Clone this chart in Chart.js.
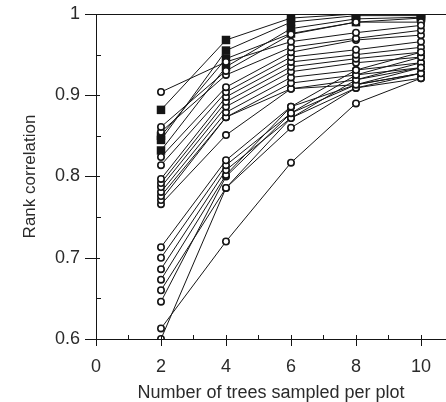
<!DOCTYPE html>
<html>
<head>
<meta charset="utf-8">
<script src="https://cdn.jsdelivr.net/npm/chart.js@4/dist/chart.umd.min.js"></script>
<style>
  html, body { margin: 0; padding: 0; background: #fff; }
  #wrap { width: 446px; height: 402px; }
</style>
</head>
<body>
<div id="wrap"><canvas id="c" width="446" height="402"></canvas></div>
<script>
// trees sampled per plot
const treesSampled = [2, 4, 6, 8, 10];

// axis ticks
const xMajorTicks = [0, 2, 4, 6, 8, 10];
const xMinorTicks = [1, 3, 5, 7, 9];
const yMajorTicks = [0.6, 0.7, 0.8, 0.9, 1];
const yMinorTicks = [0.65, 0.75, 0.85, 0.95];

// series drawn with filled squares
const squareSeries = [
    [0.882, 0.968, 0.995, 1.0, 1.0],
    [0.845, 0.955, 0.990, 0.998, 0.998],
    [0.850, 0.945, 0.976, 0.990, 0.995],
    [0.832, 0.935, 0.982, 0.994, 0.996]
];

// series drawn with open circles, upper group
const upperCircleSeries = [
    [0.904, 0.941, 0.966, 0.977, 0.986],
    [0.861, 0.930, 0.975, 0.990, 0.990],
    [0.855, 0.925, 0.959, 0.970, 0.980],
    [0.824, 0.910, 0.953, 0.968, 0.974],
    [0.814, 0.904, 0.947, 0.956, 0.966],
    [0.797, 0.898, 0.941, 0.950, 0.959],
    [0.792, 0.892, 0.935, 0.945, 0.953],
    [0.787, 0.886, 0.929, 0.940, 0.947],
    [0.781, 0.879, 0.922, 0.931, 0.940],
    [0.776, 0.873, 0.915, 0.925, 0.934],
    [0.771, 0.873, 0.908, 0.919, 0.940],
    [0.766, 0.851, 0.908, 0.913, 0.927]
];

// series drawn with open circles, lower group
const lowerCircleSeries = [
    [0.713, 0.820, 0.886, 0.931, 0.953],
    [0.700, 0.814, 0.878, 0.925, 0.947],
    [0.686, 0.808, 0.872, 0.919, 0.934],
    [0.673, 0.802, 0.886, 0.913, 0.927],
    [0.660, 0.786, 0.872, 0.909, 0.921],
    [0.646, 0.800, 0.878, 0.913, 0.934],
    [0.613, 0.720, 0.817, 0.890, 0.921],
    [0.600, 0.786, 0.860, 0.909, 0.927]
];

const ink = '#151515';
const textColor = '#2a2a2a';

function makeSet(values, square) {
    return {
        data: values.map((v, i) => ({ x: treesSampled[i], y: v })),
        borderColor: ink,
        borderWidth: 1,
        pointStyle: square ? 'rect' : 'circle',
        pointRadius: square ? 6 : 3.2,
        pointBorderWidth: square ? 0 : 1.6,
        pointBackgroundColor: square ? ink : '#fff',
        pointBorderColor: ink,
        fill: false,
        tension: 0
    };
}

const datasets = [
    ...lowerCircleSeries.map(s => makeSet(s, false)),
    ...upperCircleSeries.map(s => makeSet(s, false)),
    ...squareSeries.map(s => makeSet(s, true))
];

// axis ticks: major cross the axis, minor point inward; plus the top frame line
const axisTicks = {
    id: 'axisTicks',
    afterDraw(chart) {
        const { ctx, chartArea, scales } = chart;
        const x = scales.x, y = scales.y;
        ctx.save();
        ctx.strokeStyle = ink;
        ctx.lineWidth = 1;
        ctx.beginPath();
        ctx.moveTo(chartArea.left, chartArea.top + 0.5);
        ctx.lineTo(chartArea.right, chartArea.top + 0.5);
        xMajorTicks.forEach(v => {
            const px = Math.round(x.getPixelForValue(v)) + 0.5;
            ctx.moveTo(px, chartArea.bottom - 4);
            ctx.lineTo(px, chartArea.bottom + 7);
        });
        xMinorTicks.forEach(v => {
            const px = Math.round(x.getPixelForValue(v)) + 0.5;
            ctx.moveTo(px, chartArea.bottom - 4);
            ctx.lineTo(px, chartArea.bottom);
        });
        yMajorTicks.forEach(v => {
            const py = Math.round(y.getPixelForValue(v)) + 0.5;
            ctx.moveTo(chartArea.left - 11, py);
            ctx.lineTo(chartArea.left + 4, py);
        });
        yMinorTicks.forEach(v => {
            const py = Math.round(y.getPixelForValue(v)) + 0.5;
            ctx.moveTo(chartArea.left, py);
            ctx.lineTo(chartArea.left + 5, py);
        });
        ctx.stroke();
        ctx.restore();
    }
};

Chart.defaults.font.family = '"Liberation Sans", Arial, sans-serif';
Chart.defaults.color = textColor;

new Chart(document.getElementById('c'), {
    type: 'line',
    data: { datasets },
    options: {
        responsive: false,
        animation: false,
        layout: { autoPadding: false, padding: { top: 14, right: 0, left: 0, bottom: 0 } },
        plugins: {
            legend: { display: false },
            tooltip: { enabled: false }
        },
        scales: {
            x: {
                type: 'linear',
                min: 0,
                max: 10.77,
                afterBuildTicks: (scale) => { scale.ticks = xMajorTicks.map(v => ({ value: v })); },
                afterFit: (scale) => {
                    scale.height = 63;
                    scale.paddingLeft = 0;
                    scale.paddingRight = 0;
                },
                grid: { display: false, drawTicks: false },
                border: { display: true, color: ink, width: 1 },
                ticks: {
                    padding: 17,
                    font: { size: 18 },
                    color: textColor,
                    maxRotation: 0,
                    callback: (v) => String(v)
                },
                title: {
                    display: true,
                    text: 'Number of trees sampled per plot',
                    font: { size: 18, lineHeight: 1 },
                    color: textColor,
                    padding: { top: 0, bottom: 0 }
                }
            },
            y: {
                min: 0.6,
                max: 1,
                afterBuildTicks: (scale) => { scale.ticks = yMajorTicks.map(v => ({ value: v })); },
                afterFit: (scale) => {
                    scale.width = 96;
                    scale.paddingTop = 0;
                    scale.paddingBottom = 0;
                },
                grid: { display: false, drawTicks: false },
                border: { display: true, color: ink, width: 1 },
                ticks: {
                    padding: 16,
                    font: { size: 18 },
                    color: textColor,
                    callback: (v) => String(v)
                },
                title: {
                    display: true,
                    text: 'Rank correlation',
                    font: { size: 17 },
                    color: textColor,
                    padding: { top: 20, bottom: 0 }
                }
            }
        }
    },
    plugins: [axisTicks]
});
</script>
</body>
</html>
